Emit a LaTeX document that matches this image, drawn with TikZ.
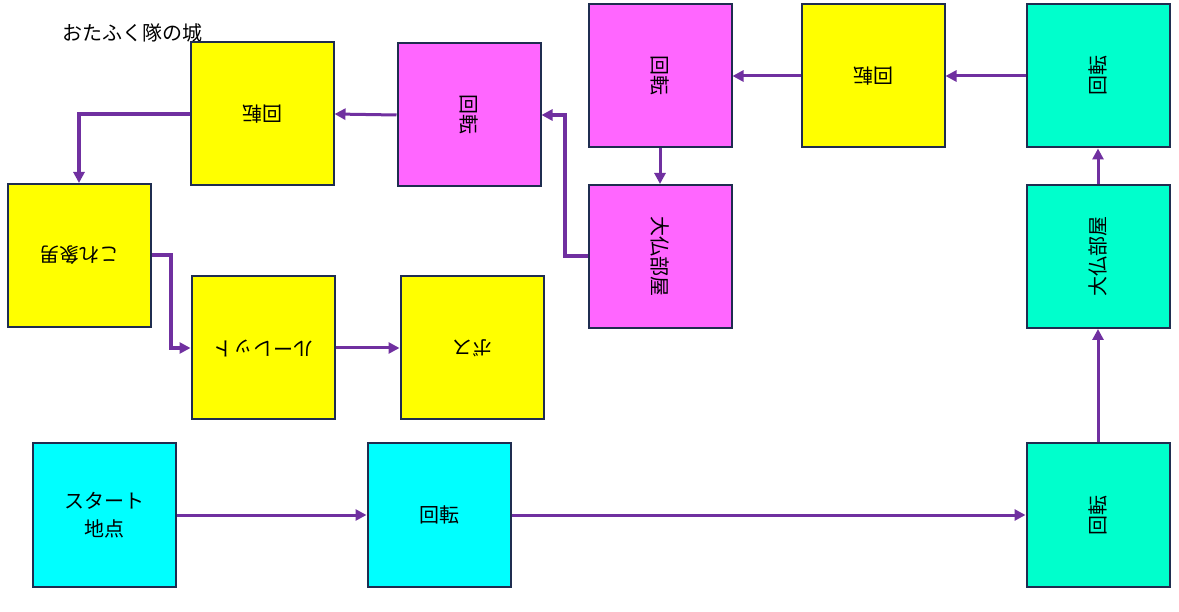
\documentclass[tikz,border=0pt]{standalone}
\usepackage{fontspec}
\newfontfamily\cjk{Noto Sans CJK JP}
\usetikzlibrary{arrows.meta}
\definecolor{bordc}{HTML}{1F2D50}
\definecolor{flowc}{HTML}{7030A0}
\definecolor{yelc}{HTML}{FFFF00}
\definecolor{magc}{HTML}{FF66FF}
\definecolor{tealc}{HTML}{00FFCC}
\definecolor{cyanc}{HTML}{00FFFF}
\tikzset{
  box/.style={draw=bordc, line width=2pt, minimum size=143pt, inner sep=0pt,
    font=\cjk\fontsize{20}{28}\selectfont, align=center},
  ybox/.style={box, fill=yelc},
  mbox/.style={box, fill=magc},
  tbox/.style={box, fill=tealc},
  cbox/.style={box, fill=cyanc},
  flow/.style={draw=flowc, line width=3pt, -{Triangle[length=11pt,width=11pt]}},
  elbow/.style={flow, line width=4pt},
  rotlabel/.style={font=\cjk\fontsize{20}{28}\selectfont, inner sep=0pt}
}
\begin{document}
\begin{tikzpicture}[x=1pt,y=-1pt]
\useasboundingbox (0,0) rectangle (1179,612);
\node[rotlabel] (title) at (132,33) {おたふく隊の城};
% boxes
\node[ybox] (A) at (262,114) {};
\node[rotlabel, rotate=180] (At) at (A) {回転};
\node[mbox] (B) at (469,115) {};
\node[rotlabel, rotate=-90] (Bt) at (B) {回転};
\node[mbox] (C) at (660,76) {};
\node[rotlabel, rotate=-90] (Ct) at (C) {回転};
\node[ybox] (D) at (873,76) {};
\node[rotlabel, rotate=180] (Dt) at (D) {回転};
\node[tbox] (E) at (1098,76) {};
\node[rotlabel, rotate=90] (Et) at (E) {回転};
\node[mbox] (F) at (660,256.5) {};
\node[rotlabel, rotate=-90] (Ft) at (F) {大仏部屋};
\node[tbox] (G) at (1098,256.5) {};
\node[rotlabel, rotate=90] (Gt) at (G) {大仏部屋};
\node[ybox] (H) at (79,255.5) {};
\node[rotlabel, rotate=180] (Ht) at (H) {これ象男};
\node[ybox] (I) at (263,348) {};
\node[rotlabel, rotate=180] (It) at (I) {ルーレット};
\node[ybox] (J) at (472,348) {};
\node[rotlabel, rotate=180] (Jt) at (J) {ボス};
\node[cbox] (K) at (104,515) {スタート\\地点};
\node[cbox] (L) at (439,515) {回転};
\node[tbox] (M) at (1098,515) {};
\node[rotlabel, rotate=90] (Mt) at (M) {回転};
% connectors
\draw[flow] (K) -- (L);
\draw[flow] (L) -- (M);
\draw[flow] (M) -- (G);
\draw[flow] (G) -- (E);
\draw[flow] (E) -- (D);
\draw[flow] (D) -- (C);
\draw[flow] (C) -- (F);
\draw[elbow] (F.west) -- ++(-23,0) |- (B.east);
\draw[flow] (B.west) -- (A.east);
\draw[elbow] (A.west) -| (H.north);
\draw[elbow] (H.east) -- ++(19,0) |- (I.west);
\draw[flow] (I) -- (J);
\end{tikzpicture}
\end{document}
